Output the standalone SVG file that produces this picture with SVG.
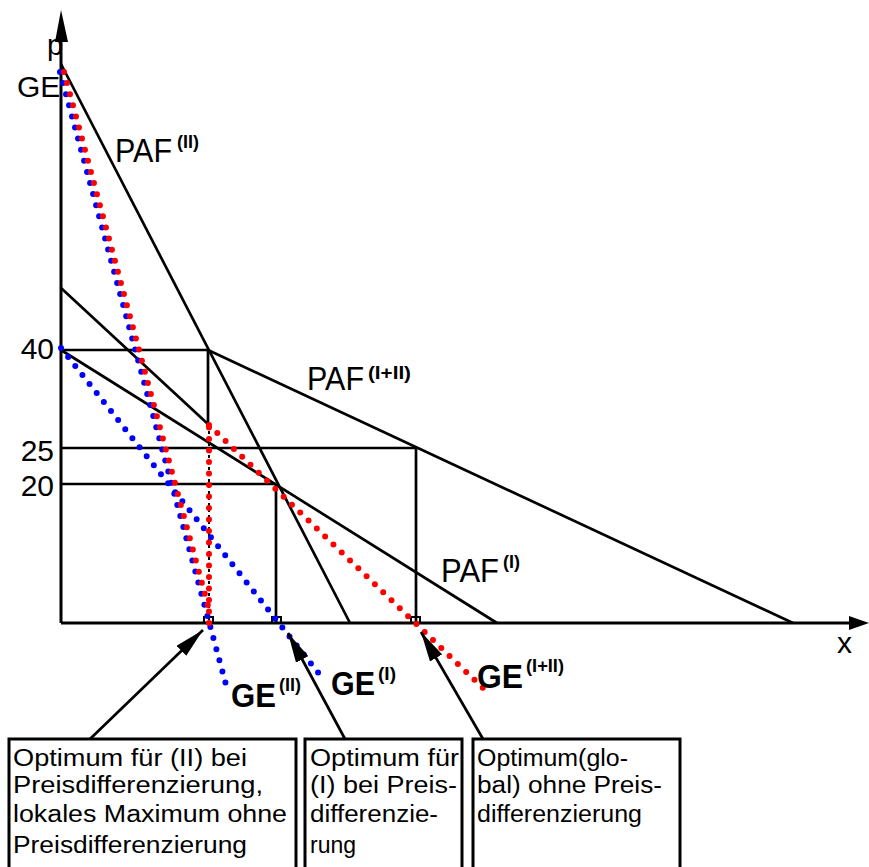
<svg xmlns="http://www.w3.org/2000/svg" width="869" height="867" viewBox="0 0 869 867">
<style>
  .ln { stroke: #000; stroke-width: 2.7; fill: none; }
  .ax { stroke: #000; stroke-width: 3; fill: none; }
  .blue { stroke: #0000ff; stroke-width: 6; stroke-linecap: round; stroke-dasharray: 0 11.5; fill: none; }
  .red { stroke: #ff0000; stroke-width: 6; stroke-linecap: round; stroke-dasharray: 0 11.5; fill: none; }
  .lbl { font-family: "Liberation Sans", Arial, sans-serif; fill: #000; }
  .sup { font-family: "Liberation Sans", Arial, sans-serif; font-weight: bold; font-size: 18px; fill: #000; }
  .ge { font-family: "Liberation Sans", Arial, sans-serif; font-weight: bold; font-size: 33px; fill: #000; }
  .box { fill: #fff; stroke: #000; stroke-width: 3; }
  .bt { font-family: "Liberation Sans", Arial, sans-serif; font-size: 23px; fill: #000; }
</style>
<defs>
  <marker id="ah" markerUnits="userSpaceOnUse" markerWidth="32" markerHeight="14" refX="30" refY="7" orient="auto">
    <path d="M0,0 L30,7 L0,14 z" fill="#000"/>
  </marker>
</defs>
<rect width="869" height="867" fill="#fff"/>

<g id="axes">
  <line class="ax" x1="61" y1="30" x2="61" y2="623"/>
  <polygon points="61,10 55,42 68,42" fill="#000"/>
  <line class="ax" x1="61" y1="623" x2="852" y2="623"/>
  <polygon points="849,616 869,623 849,630" fill="#000"/>
  <text class="lbl" x="47" y="55" font-size="29">p</text>
  <text class="lbl" x="17" y="97" font-size="30">GE</text>
  <text class="lbl" x="837" y="653" font-size="30">x</text>
  <text class="lbl" x="54" y="359" font-size="30" text-anchor="end">40</text>
  <text class="lbl" x="54" y="461" font-size="30" text-anchor="end">25</text>
  <text class="lbl" x="54" y="496" font-size="30" text-anchor="end">20</text>
</g>

<g id="curves">
  <line class="ln" x1="61" y1="64" x2="350" y2="623"/>
  <line class="ln" x1="208" y1="350" x2="793" y2="623"/>
  <line class="ln" x1="61" y1="350" x2="497" y2="623"/>
  <line class="ln" x1="61" y1="288" x2="209" y2="425"/>
  <line class="ln" x1="61" y1="350" x2="208" y2="350"/>
  <line class="ln" x1="61" y1="448" x2="416" y2="448"/>
  <line class="ln" x1="61" y1="484" x2="276" y2="484"/>
  <line class="ln" x1="208" y1="350" x2="208" y2="425"/>
  <line class="ln" x1="276" y1="484" x2="276" y2="623"/>
  <line class="ln" x1="416" y1="448" x2="416" y2="623"/>
  <line x1="209" y1="425" x2="209" y2="623" stroke="#000" stroke-width="2" stroke-dasharray="3 3"/>
  <rect x="204" y="617" width="9" height="6" fill="none" stroke="#000" stroke-width="2"/>
  <rect x="272" y="617" width="9" height="6" fill="none" stroke="#000" stroke-width="2"/>
  <rect x="411" y="617" width="9" height="6" fill="none" stroke="#000" stroke-width="2"/>
</g>

<g id="ge-curves">
  <line class="blue" x1="60" y1="72" x2="228" y2="692"/>
  <line class="blue" x1="61" y1="348" x2="320" y2="675"/>
  <line class="red" x1="64" y1="72" x2="210" y2="613"/>
  <line class="red" x1="209" y1="623" x2="209" y2="425"/>
  <line class="red" x1="209" y1="425" x2="485" y2="690"/>
</g>

<g id="label-paf2">
  <text class="lbl" x="115" y="162" font-size="33" textLength="57" lengthAdjust="spacingAndGlyphs">PAF</text>
  <text class="sup" x="177" y="148" textLength="22" lengthAdjust="spacingAndGlyphs">(II)</text>
</g>
<g id="label-paf12">
  <text class="lbl" x="307" y="390" font-size="33" textLength="57" lengthAdjust="spacingAndGlyphs">PAF</text>
  <text class="sup" x="368" y="379" textLength="43" lengthAdjust="spacingAndGlyphs">(I+II)</text>
</g>
<g id="label-paf1">
  <text class="lbl" x="441" y="582" font-size="33" textLength="58" lengthAdjust="spacingAndGlyphs">PAF</text>
  <text class="sup" x="503" y="568" textLength="17" lengthAdjust="spacingAndGlyphs">(I)</text>
</g>
<g id="label-ge2">
  <text class="ge" x="231" y="707" textLength="45" lengthAdjust="spacingAndGlyphs">GE</text>
  <text class="sup" x="279" y="691" textLength="22" lengthAdjust="spacingAndGlyphs">(II)</text>
</g>
<g id="label-ge1">
  <text class="ge" x="331" y="695" textLength="44" lengthAdjust="spacingAndGlyphs">GE</text>
  <text class="sup" x="378" y="680" textLength="18" lengthAdjust="spacingAndGlyphs">(I)</text>
</g>
<g id="label-ge12">
  <text class="ge" x="477" y="688" textLength="46" lengthAdjust="spacingAndGlyphs">GE</text>
  <text class="sup" x="526" y="672" textLength="38" lengthAdjust="spacingAndGlyphs">(I+II)</text>
</g>

<g id="connectors">
  <line class="ln" x1="90" y1="739" x2="203" y2="630" marker-end="url(#ah)"/>
  <line class="ln" x1="345" y1="739" x2="288" y2="633" marker-end="url(#ah)"/>
  <line class="ln" x1="483" y1="739" x2="421" y2="632" marker-end="url(#ah)"/>
</g>

<g id="box1">
  <rect class="box" x="9" y="739" width="287" height="150"/>
  <text class="bt" x="13" y="766" textLength="234" lengthAdjust="spacingAndGlyphs">Optimum für (II) bei</text>
  <text class="bt" x="13" y="793" textLength="250" lengthAdjust="spacingAndGlyphs">Preisdifferenzierung,</text>
  <text class="bt" x="13" y="822" textLength="274" lengthAdjust="spacingAndGlyphs">lokales Maximum ohne</text>
  <text class="bt" x="13" y="853" textLength="234" lengthAdjust="spacingAndGlyphs">Preisdifferenzierung</text>
</g>
<g id="box2">
  <rect class="box" x="305" y="739" width="157" height="150"/>
  <text class="bt" x="310" y="766" textLength="149" lengthAdjust="spacingAndGlyphs">Optimum für</text>
  <text class="bt" x="310" y="793" textLength="147" lengthAdjust="spacingAndGlyphs">(I) bei Preis-</text>
  <text class="bt" x="310" y="822" textLength="128" lengthAdjust="spacingAndGlyphs">differenzie-</text>
  <text class="bt" x="310" y="853">rung</text>
</g>
<g id="box3">
  <rect class="box" x="473" y="739" width="207" height="150"/>
  <text class="bt" x="477" y="766" textLength="151" lengthAdjust="spacingAndGlyphs">Optimum(glo-</text>
  <text class="bt" x="477" y="793" textLength="185" lengthAdjust="spacingAndGlyphs">bal) ohne Preis-</text>
  <text class="bt" x="477" y="822" textLength="165" lengthAdjust="spacingAndGlyphs">differenzierung</text>
</g>
</svg>
